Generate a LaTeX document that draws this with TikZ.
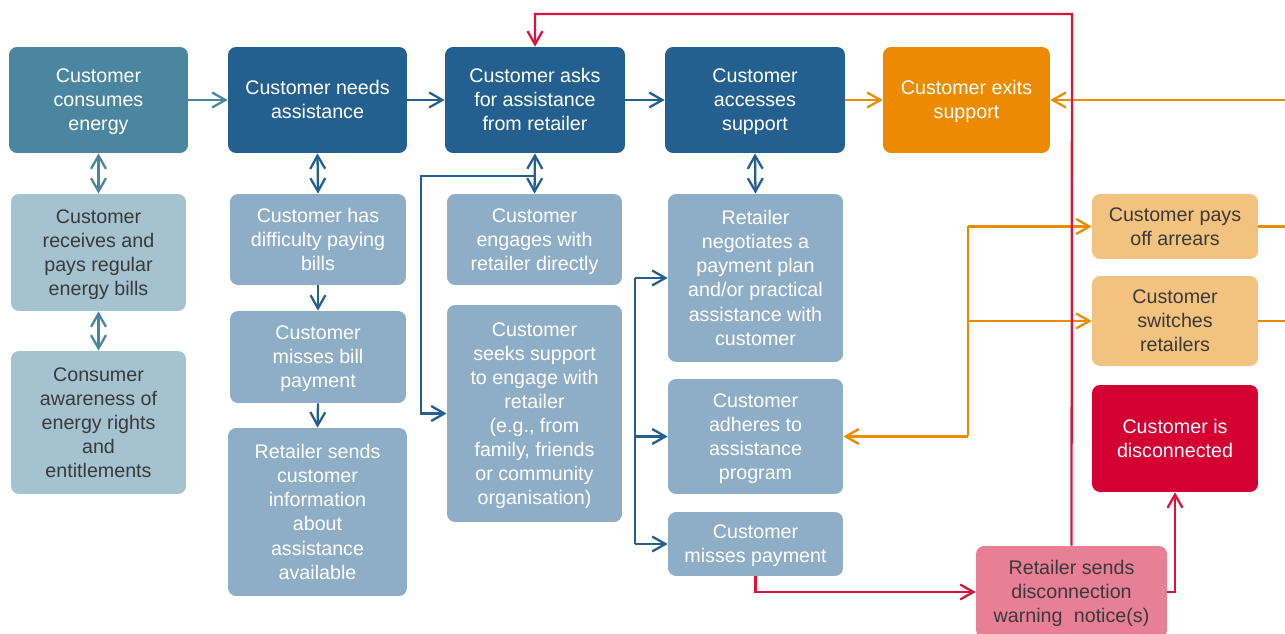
\documentclass[tikz,border=0pt]{standalone}
\usepackage{fontspec}
\setmainfont{Liberation Sans}
\usetikzlibrary{arrows.meta}

\definecolor{tealA}{HTML}{4A86A0}
\definecolor{azulA}{HTML}{24608F}
\definecolor{tealB}{HTML}{A4C2D0}
\definecolor{azulB}{HTML}{8EADC6}
\definecolor{naranjaA}{HTML}{EC8A00}
\definecolor{naranjaB}{HTML}{F4C27F}
\definecolor{rojoA}{HTML}{D40032}
\definecolor{rosaA}{HTML}{E87F95}
\definecolor{lineaRoja}{HTML}{DC143C}
\definecolor{textoOsc}{HTML}{3A3A3A}

% texto centrado, un poco mas abajo
\newsavebox{\cajabox}
\newcommand{\bajar}[1]{\sbox{\cajabox}{\begin{tabular}{@{}c@{}}#1\end{tabular}}%
  \raisebox{-1.2pt}[\ht\cajabox][\dp\cajabox]{\usebox{\cajabox}}}

\begin{document}
\begin{tikzpicture}[x=0.02cm, y=-0.02cm,
      caja/.style={rounded corners=0.16cm, inner sep=0pt,
        font=\fontsize{11.2}{13.7}\selectfont},
      oscuro/.style={caja, text=white},
      claro/.style={caja, text=textoOsc},
      flecha/.style={line width=1.3pt, -{Straight Barb[length=7.5pt,width=8.5pt]}},
      doble/.style={line width=1.3pt, {Straight Barb[length=7.5pt,width=8.5pt]}-{Straight Barb[length=7.5pt,width=8.5pt]}},
      linea/.style={line width=1.3pt}]
      \useasboundingbox (0,0) rectangle (1285,634);

      % Fila superior
      \node[oscuro, fill=tealA, minimum width=3.58cm, minimum height=2.12cm] (consume) at (98.5,100)
        {\bajar{Customer\\consumes\\energy}};
      \node[oscuro, fill=azulA, minimum width=3.58cm, minimum height=2.12cm] (needs) at (317.5,100)
        {\bajar{Customer needs\\assistance}};
      \node[oscuro, fill=azulA, minimum width=3.6cm, minimum height=2.12cm] (asks) at (535,100)
        {\bajar{Customer asks\\for assistance\\from retailer}};
      \node[oscuro, fill=azulA, minimum width=3.6cm, minimum height=2.12cm] (accesses) at (755,100)
        {\bajar{Customer\\accesses\\support}};
      \node[oscuro, fill=naranjaA, minimum width=3.34cm, minimum height=2.12cm] (exits) at (966.5,100)
        {\bajar{Customer exits\\support}};

      % Columna 1
      \node[claro, fill=tealB, minimum width=3.5cm, minimum height=2.34cm] (bills) at (98.5,252.5)
        {\bajar{Customer\\receives and\\pays regular\\energy bills}};
      \node[claro, fill=tealB, minimum width=3.5cm, minimum height=2.86cm] (aware) at (98.5,422.5)
        {\bajar{Consumer\\awareness of\\energy rights\\and\\entitlements}};

      % Columna 2
      \node[oscuro, fill=azulB, minimum width=3.52cm, minimum height=1.82cm] (difficulty) at (318,239.5)
        {\bajar{Customer has\\difficulty paying\\bills}};
      \node[oscuro, fill=azulB, minimum width=3.52cm, minimum height=1.84cm] (missesbill) at (318,357)
        {\bajar{Customer\\misses bill\\payment}};
      \node[oscuro, fill=azulB, minimum width=3.58cm, minimum height=3.36cm] (info) at (317.5,512)
        {\bajar{Retailer sends\\customer\\information\\about\\assistance\\available}};

      % Columna 3
      \node[oscuro, fill=azulB, minimum width=3.5cm, minimum height=1.82cm] (engages) at (534.5,239.5)
        {\bajar{Customer\\engages with\\retailer directly}};
      \node[oscuro, fill=azulB, minimum width=3.5cm, minimum height=4.34cm] (seeks) at (534.5,413.5)
        {\bajar{Customer\\seeks support\\to engage with\\retailer\\(e.g., from\\family, friends\\or community\\organisation)}};

      % Columna 4
      \node[oscuro, fill=azulB, minimum width=3.5cm, minimum height=3.36cm] (negotiates) at (755.5,278)
        {\bajar{Retailer\\negotiates a\\payment plan\\and/or practical\\assistance with\\customer}};
      \node[oscuro, fill=azulB, minimum width=3.5cm, minimum height=2.3cm] (adheres) at (755.5,436.5)
        {\bajar{Customer\\adheres to\\assistance\\program}};
      \node[oscuro, fill=azulB, minimum width=3.5cm, minimum height=1.28cm] (missespay) at (755.5,544)
        {\bajar{Customer\\misses payment}};

      % Columna derecha
      \node[claro, fill=naranjaB, minimum width=3.32cm, minimum height=1.3cm] (paysoff) at (1175,226.5)
        {\bajar{Customer pays\\off arrears}};
      \node[claro, fill=naranjaB, minimum width=3.32cm, minimum height=1.8cm] (switches) at (1175,321)
        {\bajar{Customer\\switches\\retailers}};
      \node[oscuro, fill=rojoA, minimum width=3.32cm, minimum height=2.14cm] (disconn) at (1175,438.5)
        {\bajar{Customer is\\disconnected}};
      \node[claro, fill=rosaA, minimum width=3.82cm, minimum height=1.84cm] (warning) at (1071.5,592)
        {\bajar{Retailer sends\\disconnection\\warning\hspace{0.3em} notice(s)}};

      % Flechas de la fila superior
      \draw[flecha, tealA] (consume) -- (needs);
      \draw[flecha, azulA] (needs) -- (asks);
      \draw[flecha, azulA] (asks) -- (accesses);
      \draw[flecha, naranjaA] (accesses) -- (exits);

      % Flechas verticales
      \draw[doble, tealA] (consume.south) -- (bills.north);
      \draw[doble, tealA] (bills.south) -- (aware.north);
      \draw[doble, azulA] (needs.south) -- (difficulty.north);
      \draw[flecha, azulA] (difficulty.south) -- (missesbill.north);
      \draw[flecha, azulA] (missesbill.south) -- (info.north);
      \draw[doble, azulA] (asks.south) -- (engages.north);
      \draw[doble, azulA] (accesses.south) -- (negotiates.north);

      % Ramas azules
      \coordinate (ramaA) at (535,176);
      \coordinate (ramaB) at (421,176);
      \draw[flecha, azulA] (ramaA) -- (ramaB) |- (seeks.west);
      \coordinate (llaveT) at (635,278);
      \coordinate (llaveB) at (635,544);
      \draw[linea, azulA] (llaveT) -- (llaveB);
      \draw[flecha, azulA] (llaveT) -- (negotiates.west);
      \draw[flecha, azulA] (llaveB |- adheres.west) -- (adheres.west);
      \draw[flecha, azulA] (llaveB) -- (missespay.west);

      % Lineas naranjas
      \coordinate (bordeT) at (1290,100);
      \draw[flecha, naranjaA] (bordeT) -- (exits.east);
      \draw[linea, naranjaA] (paysoff.east) -- ++(40,0);
      \draw[linea, naranjaA] (switches.east) -- ++(40,0);
      \coordinate (naranjaT) at (968,226.5);
      \coordinate (naranjaB) at (968,436.5);
      \draw[linea, naranjaA] (naranjaT) -- (naranjaB);
      \draw[flecha, naranjaA] (naranjaT) -- (paysoff.west);
      \draw[flecha, naranjaA] (naranjaB |- switches.west) -- (switches.west);
      \draw[flecha, naranjaA] (naranjaB) -- (adheres.east);

      % Lineas rojas
      \coordinate (rojoT) at (1072,14);
      \draw[flecha, lineaRoja] (warning.north) -- (rojoT) -| (asks.north);
      \draw[flecha, lineaRoja] (missespay.south) |- (warning.west);
      \draw[flecha, lineaRoja] (warning.east) -| (disconn.south);
    \end{tikzpicture}
\end{document}
